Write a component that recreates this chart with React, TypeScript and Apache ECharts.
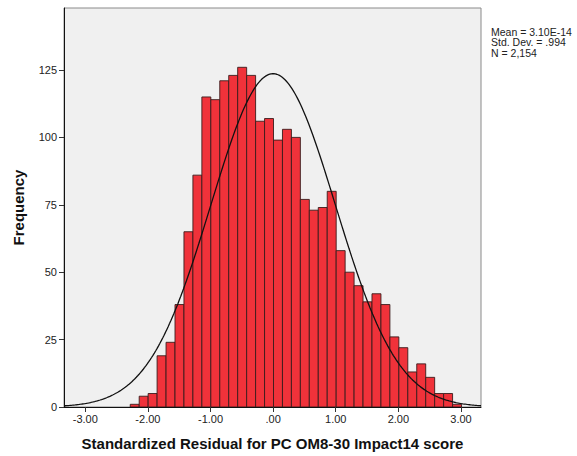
import React, { useEffect, useRef } from "react";
import * as echarts from "echarts";

// Histogram data (standardized residuals)
const binStart = -2.282;
const binWidth = 0.143;
const counts = [
  1, 4, 5, 19, 24, 38, 65, 86, 115, 114, 121, 123, 126, 123, 106, 107, 99, 103, 100,
  77, 73, 74, 80, 58, 50, 45, 39, 42, 38, 26, 22, 13, 16, 11, 5, 5, 1,
];
const xTicks = [-3, -2, -1, 0, 1, 2, 3];
const yTicks = [0, 25, 50, 75, 100, 125];
const statLines = ["Mean = 3.10E-14", "Std. Dev. = .994", "N = 2,154"];
const mean = 3.1e-14;
const sd = 0.994;
const n = 2154;

const FONT = "'Liberation Sans', Arial, sans-serif";

export default function App() {
  const ref = useRef<HTMLDivElement>(null);
  useEffect(() => {
    document.body.style.margin = "0";
    const chart = echarts.init(ref.current!, null, { renderer: "svg" });
    const xMin = -3.34;
    const xMax = 3.32;
    const bars = counts.map((c, i) => [binStart + i * binWidth, binStart + (i + 1) * binWidth, c]);
    const curve: number[][] = [];
    const steps = 300;
    for (let i = 0; i <= steps; i++) {
      const x = xMin + ((xMax - xMin) * i) / steps;
      const z = (x - mean) / sd;
      const y = (n * binWidth) / (sd * Math.sqrt(2 * Math.PI)) * Math.exp(-0.5 * z * z);
      curve.push([x, y]);
    }
    chart.setOption({
      animation: false,
      backgroundColor: "#ffffff",
      grid: {
        left: 64,
        top: 8,
        width: 417,
        height: 403,
        show: true,
        backgroundColor: "#F0F0F0",
        borderColor: "#8a8a8a",
        borderWidth: 1,
      },
      xAxis: {
        type: "value",
        min: xMin,
        max: xMax,
        name: "Standardized Residual for PC OM8-30 Impact14 score",
        nameLocation: "middle",
        nameGap: 29,
        nameTextStyle: { fontFamily: FONT, fontWeight: "bold", fontSize: 15, color: "#111" },
        axisLine: { show: true, onZero: false, lineStyle: { color: "#111", width: 1 } },
        axisTick: { show: true, length: 5, customValues: xTicks, lineStyle: { color: "#333" } },
        axisLabel: {
          customValues: xTicks,
          formatter: (v: number) => (v === 0 ? ".00" : v.toFixed(2)),
          fontFamily: FONT,
          fontSize: 11,
          color: "#222",
          margin: 6,
        },
        splitLine: { show: false },
      },
      yAxis: {
        type: "value",
        min: 0,
        max: 148,
        name: "Frequency",
        nameLocation: "middle",
        nameGap: 38,
        nameRotate: 90,
        nameTextStyle: { fontFamily: FONT, fontWeight: "bold", fontSize: 15, color: "#111" },
        axisLine: { show: true, onZero: false, lineStyle: { color: "#111", width: 1 } },
        axisTick: { show: true, length: 5, customValues: yTicks, lineStyle: { color: "#333" } },
        axisLabel: {
          customValues: yTicks,
          fontFamily: FONT,
          fontSize: 11,
          color: "#222",
          margin: 7,
        },
        splitLine: { show: false },
      },
      graphic: [
        {
          type: "text",
          left: 491,
          top: 26,
          style: {
            text: statLines.join("\n"),
            font: `10.5px ${FONT}`,
            lineHeight: 10.5,
            fill: "#222",
          },
        },
      ],
      series: [
        {
          type: "custom",
          data: bars,
          clip: true,
          renderItem: (params: any, api: any) => {
            const p0 = api.coord([api.value(0), 0]);
            const p1 = api.coord([api.value(1), api.value(2)]);
            return {
              type: "rect",
              shape: { x: p0[0], y: p1[1], width: p1[0] - p0[0], height: p0[1] - p1[1] },
              style: { fill: "#F0323A", stroke: "#3a1c1c", lineWidth: 0.9 },
            };
          },
          encode: { x: [0, 1], y: 2 },
          z: 2,
        },
        {
          type: "line",
          data: curve,
          showSymbol: false,
          clip: true,
          lineStyle: { color: "#111", width: 1.3 },
          z: 3,
        },
      ],
    });
    return () => chart.dispose();
  }, []);
  return <div ref={ref} style={{ width: 577, height: 456 }} />;
}
